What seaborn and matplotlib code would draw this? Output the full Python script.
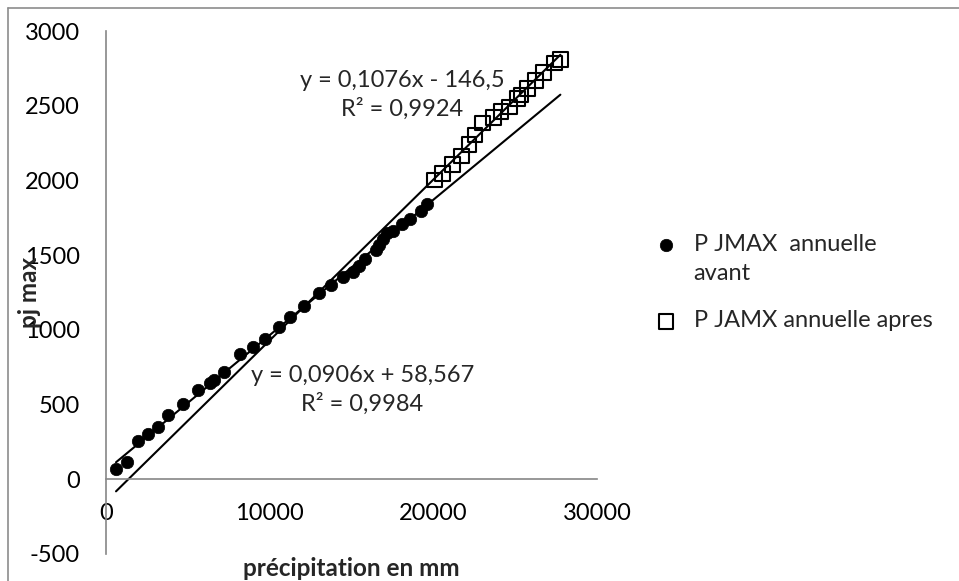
import numpy as np
import pandas as pd
import seaborn as sns
import matplotlib.pyplot as plt
from matplotlib.lines import Line2D

# data
avant_x = [612, 1268, 1941, 2590, 3166, 3815, 4734, 5615, 6369, 6614, 7183,
           8163, 8983, 9737, 10551, 11225, 12125, 13000, 13717, 14495, 15107,
           15452, 15799, 16473, 16677, 16944, 17189, 17556, 18065, 18574,
           19228, 19596]
avant_y = [67, 118, 258, 303, 352, 432, 502, 598, 647, 665, 716,
           837, 888, 937, 1021, 1084, 1160, 1245, 1300, 1356, 1390,
           1430, 1472, 1535, 1568, 1608, 1647, 1662, 1709, 1742,
           1798, 1840]

apres_x = [20086, 20557, 21169, 21721, 22188, 22555, 23005, 23680, 24128,
           24637, 25150, 25352, 25763, 26230, 26741, 27394, 27762]
apres_y = [2003, 2048, 2107, 2164, 2242, 2304, 2383, 2423, 2460,
           2490, 2550, 2573, 2617, 2668, 2722, 2785, 2811]

# trendline coefficients (slope, intercept) as printed on the chart
avant_fit = (0.0906, 58.567)
apres_fit = (0.1076, -146.5)
avant_eq = "y = 0,0906x + 58,567\nR² = 0,9984"
apres_eq = "y = 0,1076x - 146,5\nR² = 0,9924"

# legend labels (first one wraps onto a second line in the original)
label_avant = "P JMAX  annuelle"
label_avant_2 = "avant"
label_apres = "P JAMX annuelle apres"

sns.set_style("white")
plt.rcParams['font.family'] = ['Lato', 'DejaVu Sans']
plt.rcParams['axes.unicode_minus'] = False
fs = 17
grey = '#868686'

fig = plt.figure(figsize=(9.59, 5.81), dpi=100)
ax = fig.add_axes([106 / 959, 1 - 554 / 581, 491 / 959, 523 / 581])

# trendlines over the full x range of both series
all_x = avant_x + apres_x
x_rng = np.array([min(all_x), max(all_x)])
for slope, icpt in (avant_fit, apres_fit):
    sns.lineplot(x=x_rng, y=slope * x_rng + icpt, ax=ax, color='black',
                 linewidth=1.5, legend=False)

df_a = pd.DataFrame({'x': avant_x, 'y': avant_y})
df_b = pd.DataFrame({'x': apres_x, 'y': apres_y})
sns.scatterplot(data=df_a, x='x', y='y', ax=ax, marker='o', s=80,
                color='black', edgecolor='black', linewidth=0.5,
                label=label_avant, zorder=3)
sns.scatterplot(data=df_b, x='x', y='y', ax=ax, marker='s', s=110,
                facecolor='none', edgecolor='black', linewidth=1.5,
                label=label_apres, zorder=3)

# equations
ax.text(18100, 2570, apres_eq, ha='center', va='center', fontsize=fs,
        linespacing=1.35)
ax.text(15650, 600, avant_eq, ha='center', va='center', fontsize=fs,
        linespacing=1.35)

ax.set_xlim(0, 30000)
ax.set_ylim(-500, 3000)
ax.set_xticks([0, 10000, 20000, 30000])
ax.set_yticks(np.arange(-500, 3001, 500))

for s in ('top', 'right'):
    ax.spines[s].set_visible(False)
ax.spines['bottom'].set_position(('data', 0))
for s in ('left', 'bottom'):
    ax.spines[s].set_color(grey)
    ax.spines[s].set_linewidth(1.2)
ax.tick_params(axis='both', direction='out', length=7, width=1.2,
               color=grey, labelsize=fs, labelcolor='black')
ax.tick_params(axis='x', pad=10)
ax.tick_params(axis='y', pad=12)

ax.set_xlabel("précipitation en mm", fontsize=fs + 0.5, fontweight='bold')
ax.set_ylabel("pj max", fontsize=fs + 0.5, fontweight='bold')
ax.xaxis.set_label_coords(0.5, -0.028)
ax.yaxis.set_label_coords(-0.155, 0.5)
ax.xaxis.label.set_va('center')
ax.yaxis.label.set_va('center')

leg = ax.legend(loc='upper left', bbox_to_anchor=(652 / 959, 1 - 234 / 581),
                bbox_transform=fig.transFigure, frameon=False, fontsize=fs,
                handletextpad=0.6, labelspacing=2.35, borderaxespad=0,
                handlelength=1.2, borderpad=0)
fig.text(693 / 959, 1 - 273 / 581, label_avant_2, fontsize=fs,
         ha='left', va='center')

# outer chart border
fig.add_artist(Line2D([8 / 959, 8 / 959], [0, 1 - 8 / 581], color='#8c8c8c',
                      linewidth=1.2, transform=fig.transFigure))
fig.add_artist(Line2D([8 / 959, 1], [1 - 8 / 581, 1 - 8 / 581],
                      color='#8c8c8c', linewidth=1.2, transform=fig.transFigure))

fig.savefig('out.png', dpi=100)
